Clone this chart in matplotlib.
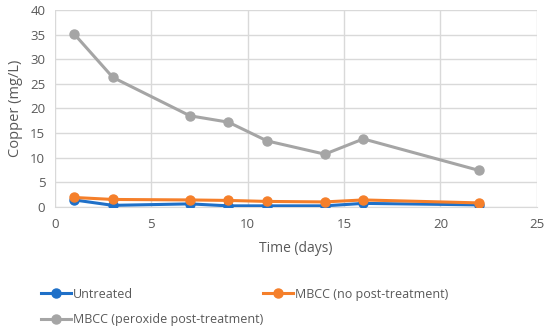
import matplotlib.pyplot as plt

days = [1, 3, 7, 9, 11, 14, 16, 22]
untreated = [1.4, 0.3, 0.6, 0.2, 0.2, 0.2, 0.7, 0.4]
mbcc_no = [1.9, 1.5, 1.4, 1.3, 1.1, 1.0, 1.4, 0.8]
mbcc_perox = [35.1, 26.3, 18.5, 17.2, 13.4, 10.7, 13.8, 7.4]

plt.rcParams['font.family'] = ['Open Sans', 'DejaVu Sans']
txt = '#595959'
grid = '#d9d9d9'

fig = plt.figure(figsize=(5.5, 3.32), dpi=100)
ax = fig.add_axes([0.1, 0.377, 0.876, 0.593])

l1, = ax.plot(days, untreated, color='#1f70c8', marker='o', lw=2.2, ms=6.5, label='Untreated', zorder=3)
l2, = ax.plot(days, mbcc_no, color='#f57f2a', marker='o', lw=2.2, ms=6.5, label='MBCC (no post-treatment)', zorder=3)
l3, = ax.plot(days, mbcc_perox, color='#a5a5a5', marker='o', lw=2.2, ms=6.5, label='MBCC (peroxide post-treatment)', zorder=3)

ax.set_xlim(0, 25)
ax.set_ylim(0, 40)
ax.set_xticks(range(0, 26, 5))
ax.set_yticks(range(0, 41, 5))
ax.grid(True, color=grid, lw=1)
ax.set_axisbelow(True)
for s in ['top', 'right', 'left']:
    ax.spines[s].set_visible(False)
ax.spines['bottom'].set_color(grid)
ax.tick_params(length=0, colors=txt, labelsize=9.5, pad=8)
ax.tick_params(axis='y', pad=7)
ax.set_xlabel('Time (days)', color=txt, fontsize=10, labelpad=7)
ax.set_ylabel('Copper (mg/L)', color=txt, fontsize=10.5, labelpad=5)

leg = fig.legend([l1, l3, l2], [l1.get_label(), l3.get_label(), l2.get_label()],
                 ncol=2, loc='upper left', bbox_to_anchor=(0.065, 0.148),
                 frameon=False, fontsize=9, handlelength=2.4, handletextpad=0.2,
                 columnspacing=-0.05, labelspacing=1.0, borderaxespad=0)
for t in leg.get_texts():
    t.set_color(txt)

fig.savefig('out.png', dpi=100)
